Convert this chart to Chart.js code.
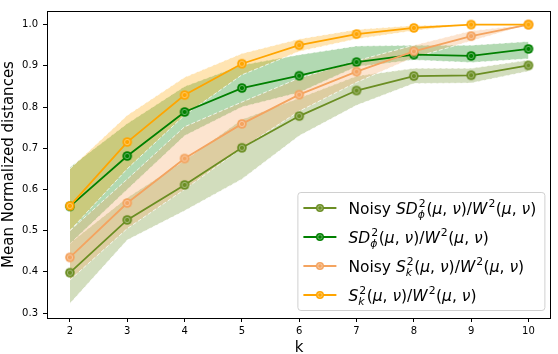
<!DOCTYPE html>
<html>
<head>
<meta charset="utf-8">
<script src="https://cdn.jsdelivr.net/npm/chart.js@4.4.1/dist/chart.umd.min.js"></script>
<style>
  html, body { margin: 0; padding: 0; background: #fff; }
  #wrap { width: 558px; height: 354px; }
</style>
</head>
<body>
<div id="wrap"><canvas id="grafico" width="558" height="354"></canvas></div>
<script>
const ks = [2, 3, 4, 5, 6, 7, 8, 9, 10];
const yTicks = [0.3, 0.4, 0.5, 0.6, 0.7, 0.8, 0.9, 1.0];

const sdNoisyMean = [0.398, 0.526, 0.611, 0.701, 0.778, 0.840, 0.875, 0.877, 0.901];
const sdNoisyLow  = [0.323, 0.477, 0.548, 0.625, 0.730, 0.804, 0.857, 0.858, 0.887];
const sdNoisyHigh = [0.470, 0.580, 0.670, 0.770, 0.822, 0.875, 0.894, 0.894, 0.914];

const sdMean = [0.559, 0.681, 0.788, 0.846, 0.876, 0.909, 0.927, 0.924, 0.941];
const sdLow  = [0.468, 0.600, 0.730, 0.800, 0.835, 0.898, 0.914, 0.908, 0.917];
const sdHigh = [0.654, 0.760, 0.850, 0.902, 0.927, 0.948, 0.950, 0.950, 0.959];

const skNoisyMean = [0.435, 0.567, 0.675, 0.759, 0.830, 0.886, 0.935, 0.972, 1.0];
const skNoisyLow  = [0.380, 0.505, 0.600, 0.700, 0.790, 0.860, 0.920, 0.960, 1.0];
const skNoisyHigh = [0.500, 0.625, 0.752, 0.812, 0.870, 0.912, 0.950, 0.985, 1.0];

const skMean = [0.560, 0.715, 0.829, 0.905, 0.950, 0.977, 0.992, 1.0, 1.0];
const skLow  = [0.500, 0.650, 0.780, 0.878, 0.935, 0.965, 0.985, 1.0, 1.0];
const skHigh = [0.650, 0.780, 0.872, 0.930, 0.965, 0.988, 0.998, 1.0, 1.0];

// legend texts: [text, style]  n = normal, i = italic, sup = superscript, ss = [sup, sub]
const nomes = [
  [['Noisy ', 'n'], ['SD', 'i'], [['2', 'ϕ'], 'ss'], ['(', 'n'], ['μ', 'i'], [', ', 'n'], ['ν', 'i'], [')/', 'n'], ['W', 'i'], ['2', 'sup'], ['(', 'n'], ['μ', 'i'], [', ', 'n'], ['ν', 'i'], [')', 'n']],
  [['SD', 'i'], [['2', 'ϕ'], 'ss'], ['(', 'n'], ['μ', 'i'], [', ', 'n'], ['ν', 'i'], [')/', 'n'], ['W', 'i'], ['2', 'sup'], ['(', 'n'], ['μ', 'i'], [', ', 'n'], ['ν', 'i'], [')', 'n']],
  [['Noisy ', 'n'], ['S', 'i'], [['2', 'k'], 'ss'], ['(', 'n'], ['μ', 'i'], [', ', 'n'], ['ν', 'i'], [')/', 'n'], ['W', 'i'], ['2', 'sup'], ['(', 'n'], ['μ', 'i'], [', ', 'n'], ['ν', 'i'], [')', 'n']],
  [['S', 'i'], [['2', 'k'], 'ss'], ['(', 'n'], ['μ', 'i'], [', ', 'n'], ['ν', 'i'], [')/', 'n'], ['W', 'i'], ['2', 'sup'], ['(', 'n'], ['μ', 'i'], [', ', 'n'], ['ν', 'i'], [')', 'n']]
];
const rotulos = ['Noisy SD²ϕ(μ, ν)/W²(μ, ν)', 'SD²ϕ(μ, ν)/W²(μ, ν)', 'Noisy S²k(μ, ν)/W²(μ, ν)', 'S²k(μ, ν)/W²(μ, ν)'];

const cores = ['107,142,35', '0,128,0', '244,164,96', '255,165,0'];
const FONTE = '"DejaVu Sans", sans-serif';

function marcador(rgb, r) {
  const c = document.createElement('canvas');
  const s = Math.ceil(r * 2 + 2);
  c.width = s; c.height = s;
  const g = c.getContext('2d');
  g.beginPath();
  g.arc(s / 2, s / 2, r, 0, Math.PI * 2);
  g.fillStyle = `rgb(${rgb})`;
  g.fill();
  g.beginPath();
  g.arc(s / 2, s / 2, r * 0.55, 0, Math.PI * 2);
  g.strokeStyle = 'rgba(255,255,255,0.4)';
  g.lineWidth = 1;
  g.stroke();
  return c;
}

const pts = arr => arr.map((v, i) => ({ x: ks[i], y: v }));

const medias = [sdNoisyMean, sdMean, skNoisyMean, skMean];
const baixos = [sdNoisyLow, sdLow, skNoisyLow, skLow];
const altos = [sdNoisyHigh, sdHigh, skNoisyHigh, skHigh];

const datasets = [];
medias.forEach((m, i) => {
  datasets.push({
    label: rotulos[i],
    data: pts(m),
    borderColor: `rgb(${cores[i]})`,
    borderWidth: 1.8,
    pointStyle: marcador(cores[i], 4.8),
    pointRadius: 4.8,
    fill: false,
    order: 4 - i
  });
});
altos.forEach((a, i) => {
  datasets.push({
    label: 'banda-alta-' + i,
    data: pts(a),
    borderColor: 'rgba(255,255,255,0.75)',
    borderWidth: 1,
    borderDash: [4, 2],
    backgroundColor: `rgba(${cores[i]},0.3)`,
    pointRadius: 0,
    fill: '+1',
    order: 20 - i * 2
  });
  datasets.push({
    label: 'banda-baixa-' + i,
    data: pts(baixos[i]),
    borderColor: 'rgba(255,255,255,0.75)',
    borderWidth: 1,
    borderDash: [4, 2],
    pointRadius: 0,
    fill: false,
    order: 19 - i * 2
  });
});

function desenharTexto(ctx, x, y, partes, size) {
  ctx.textBaseline = 'alphabetic';
  ctx.textAlign = 'left';
  const normal = `${size}px ${FONTE}`;
  const italico = `oblique ${size}px ${FONTE}`;
  const pequeno = size * 0.7;
  partes.forEach(([t, s]) => {
    if (s === 'n' || s === 'i') {
      ctx.font = s === 'n' ? normal : italico;
      ctx.fillText(t, x, y);
      x += ctx.measureText(t).width;
    } else if (s === 'sup') {
      ctx.font = `${pequeno}px ${FONTE}`;
      ctx.fillText(t, x + 1, y - size * 0.42);
      x += ctx.measureText(t).width + 1.5;
    } else if (s === 'ss') {
      ctx.font = `${pequeno}px ${FONTE}`;
      ctx.fillText(t[0], x + 1, y - size * 0.42);
      const w1 = ctx.measureText(t[0]).width;
      ctx.font = `oblique ${pequeno}px ${FONTE}`;
      ctx.fillText(t[1], x, y + size * 0.3);
      const w2 = ctx.measureText(t[1]).width;
      x += Math.max(w1, w2) + 1.5;
    }
  });
}

const molduraLegenda = {
  id: 'molduraLegenda',
  afterDraw(chart) {
    const ctx = chart.ctx;
    const a = chart.chartArea;
    ctx.save();
    // spines
    ctx.strokeStyle = '#000';
    ctx.lineWidth = 1;
    ctx.strokeRect(Math.round(a.left) + 0.5, Math.round(a.top) + 0.5, Math.round(a.right - a.left) - 1, Math.round(a.bottom - a.top));

    // legend box
    const w = 247, h = 118;
    const bx = a.right - 7 - w, by = a.bottom - 8 - h;
    ctx.beginPath();
    ctx.roundRect(bx + 0.5, by + 0.5, w, h, 3);
    ctx.fillStyle = 'rgba(255,255,255,0.8)';
    ctx.fill();
    ctx.strokeStyle = '#d0d0d0';
    ctx.stroke();

    nomes.forEach((partes, i) => {
      const cy = by + 16 + i * 29;
      ctx.beginPath();
      ctx.moveTo(bx + 6, cy);
      ctx.lineTo(bx + 39, cy);
      ctx.strokeStyle = `rgb(${cores[i]})`;
      ctx.lineWidth = 1.8;
      ctx.stroke();
      const m = marcador(cores[i], 4);
      ctx.drawImage(m, bx + 22.5 - m.width / 2, cy - m.height / 2);
      ctx.fillStyle = '#000';
      desenharTexto(ctx, bx + 51, cy + 5.5, partes, 15.5);
    });
    ctx.restore();
  }
};

new Chart(document.getElementById('grafico'), {
  type: 'line',
  data: { datasets },
  options: {
    responsive: false,
    animation: false,
    layout: { padding: { left: 0, right: 3, top: 3, bottom: 0 } },
    plugins: { legend: { display: false }, tooltip: { enabled: false } },
    scales: {
      x: {
        type: 'linear',
        min: 1.6,
        max: 10.4,
        afterBuildTicks: s => { s.ticks = ks.map(v => ({ value: v })); },
        afterFit: s => { s.height = 36; },
        grid: { drawOnChartArea: false, drawTicks: true, tickLength: 4, color: '#000' },
        border: { display: false },
        ticks: { color: '#000', font: { family: FONTE, size: 10 }, padding: 3, maxRotation: 0 },
        title: { display: true, text: 'k', color: '#000', font: { family: FONTE, size: 15 }, padding: { top: -3, bottom: -3 } }
      },
      y: {
        min: 0.288,
        max: 1.033,
        afterBuildTicks: s => { s.ticks = yTicks.map(v => ({ value: v })); },
        afterFit: s => { s.width = 47; },
        grid: { drawOnChartArea: false, drawTicks: true, tickLength: 4, color: '#000' },
        border: { display: false },
        ticks: { color: '#000', font: { family: FONTE, size: 10 }, padding: 5, callback: v => v.toFixed(1) },
        title: { display: true, text: 'Mean Normalized distances', color: '#000', font: { family: FONTE, size: 15 }, padding: { top: 0, bottom: 0 } }
      }
    }
  },
  plugins: [molduraLegenda]
});
</script>
</body>
</html>
